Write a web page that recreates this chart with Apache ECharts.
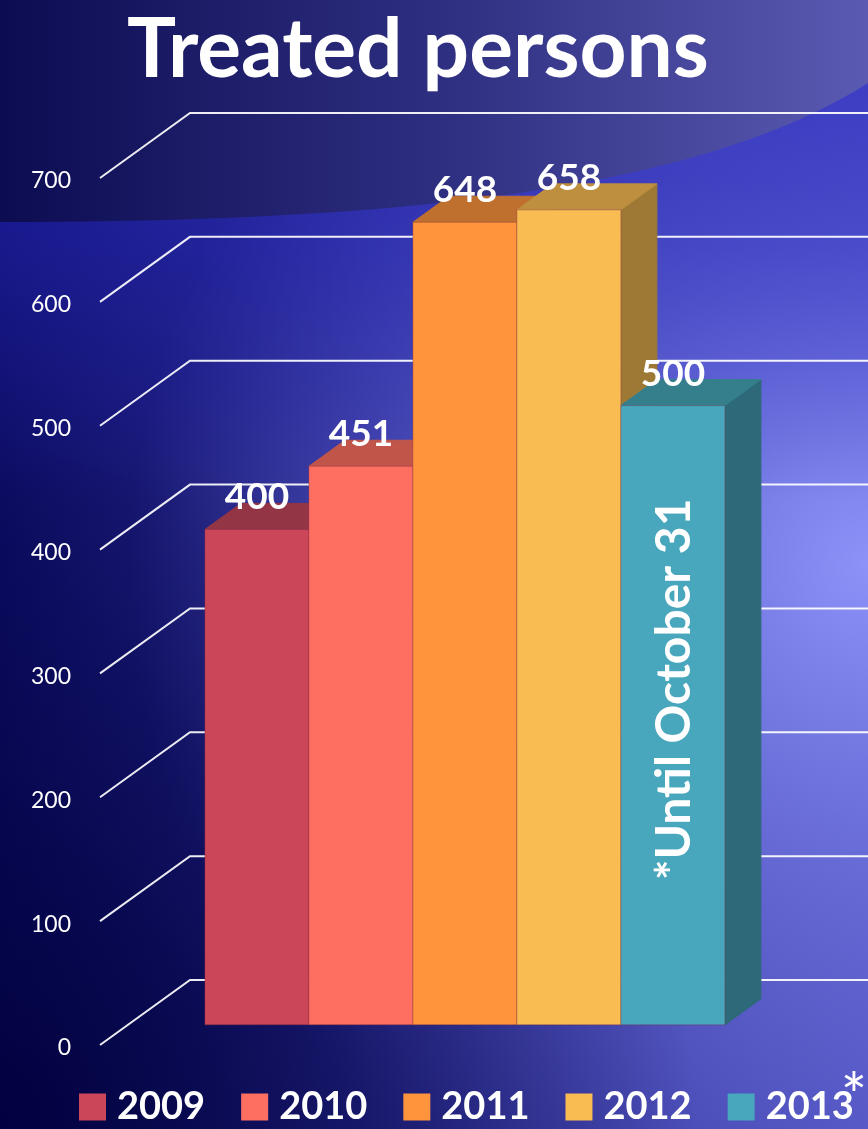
<!DOCTYPE html>
<html>
<head>
<meta charset="utf-8">
<script src="https://cdn.jsdelivr.net/npm/echarts@6/dist/echarts.min.js"></script>
<style>
  html, body { margin: 0; padding: 0; background: #0a0a50; }
  #chart { width: 868px; height: 1129px; }
</style>
</head>
<body>
<div id="chart"></div>
<script>
// ---- data ----
const years = ['2009', '2010', '2011', '2012', '2013'];
const treated = [400, 451, 648, 658, 500];
const yTicks = [0, 100, 200, 300, 400, 500, 600, 700];
const barNotes = ['', '', '', '', '*Until October 31'];
const titleText = 'Treated persons';

// ---- styles ----
const frontColors = ['#CC4659', '#FF6F61', '#FF943D', '#F9BC52', '#48A7BC'];
const topColors   = ['#943545', '#C1554A', '#BF702E', '#BE8F3F', '#357F8D'];
const sideColors  = ['#7A2A38', '#A0463D', '#9E5C26', '#9E7935', '#2D6978'];
const FONT = 'Lato, "Open Sans", sans-serif';

// oblique depth projection (full depth of the floor)
const DX = -90, DY = 65;
const FRONT = 0.69, BACK = 0.29;

// decorative swoosh outline (cubic bezier sampled into a polygon)
function swooshPoints() {
  const p0 = [868, 83], p1 = [700, 190], p2 = [400, 222], p3 = [0, 222];
  const pts = [[0, 0], [868, 0]];
  for (let s = 0; s <= 40; s++) {
    const t = s / 40, u = 1 - t;
    pts.push([
      u * u * u * p0[0] + 3 * u * u * t * p1[0] + 3 * u * t * t * p2[0] + t * t * t * p3[0],
      u * u * u * p0[1] + 3 * u * u * t * p1[1] + 3 * u * t * t * p2[1] + t * t * t * p3[1]
    ]);
  }
  return pts;
}

const chart = echarts.init(document.getElementById('chart'));

function renderAxis(params, api) {
  const v = api.value(1);
  const y = api.coord([0, v])[1];
  const backX = 190, rightX = 868;
  return {
    type: 'group',
    children: [
      { type: 'polyline', shape: { points: [[backX + DX, y + DY], [backX, y], [rightX, y]] },
        style: { stroke: 'rgba(255,255,255,0.92)', lineWidth: 2, fill: null } },
      { type: 'text', x: 71, y: y + DY + 3,
        style: { text: String(v), fill: '#ffffff', font: '400 23px ' + FONT, align: 'right', verticalAlign: 'middle' } }
    ]
  };
}

function makeRenderBar(k) {
  return function (params, api) {
    const i = api.value(0), v = api.value(1);
    const top = api.coord([i, v]);
    const base = api.coord([i, 0]);
    const w = api.size([1, 0])[0];
    const xl = top[0] - w / 2, xr = top[0] + w / 2;
    const fdx = DX * FRONT, fdy = DY * FRONT, bdx = DX * BACK, bdy = DY * BACK;
    const yT = top[1], yB = base[1];
    const children = [
      { type: 'polygon', shape: { points: [[xr + fdx, yT + fdy], [xr + bdx, yT + bdy], [xr + bdx, yB + bdy], [xr + fdx, yB + fdy]] },
        style: { fill: sideColors[k], stroke: sideColors[k], lineWidth: 1 } },
      { type: 'polygon', shape: { points: [[xl + fdx, yT + fdy], [xr + fdx, yT + fdy], [xr + bdx, yT + bdy], [xl + bdx, yT + bdy]] },
        style: { fill: topColors[k], stroke: topColors[k], lineWidth: 1 } },
      { type: 'rect', shape: { x: xl + fdx, y: yT + fdy, width: w, height: yB - yT },
        style: { fill: frontColors[k], stroke: 'rgba(120,40,60,0.35)', lineWidth: 1 } },
      { type: 'text', x: (xl + xr) / 2 + fdx, y: yT + fdy - 32,
        style: { text: String(v), fill: '#ffffff', font: '700 37px ' + FONT, align: 'center', verticalAlign: 'middle' } }
    ];
    if (barNotes[k]) {
      children.push({ type: 'text', x: (xl + xr) / 2 + fdx + 2, y: (yT + yB) / 2 + fdy - 26, rotation: Math.PI / 2,
        style: { text: barNotes[k], fill: '#ffffff', font: '700 48px ' + FONT, align: 'center', verticalAlign: 'middle' } });
    }
    return { type: 'group', children: children };
  };
}

const barSeries = years.map(function (yr, k) {
  return {
    type: 'custom', name: yr, z: 5,
    itemStyle: { color: frontColors[k] },
    renderItem: makeRenderBar(k),
    data: [[k, treated[k]]],
    encode: { x: 0, y: 1 }
  };
});

const option = {
  animation: false,
  backgroundColor: '#0a0a50',
  graphic: {
    elements: [
      { type: 'rect', z: -10, shape: { x: 0, y: 0, width: 868, height: 1129 },
        style: { fill: new echarts.graphic.LinearGradient(0, 0, 1, 0, [
          { offset: 0, color: '#0c0c62' }, { offset: 0.45, color: '#2c2c92' }, { offset: 1, color: '#5052c0' }]) } },
      { type: 'rect', z: -9, shape: { x: 0, y: 0, width: 868, height: 1129 },
        style: { fill: new echarts.graphic.RadialGradient(1.0, 0.5, 0.85, [
          { offset: 0, color: 'rgba(140,146,248,1)' }, { offset: 0.45, color: 'rgba(112,116,222,0.65)' }, { offset: 1, color: 'rgba(100,104,210,0)' }]) } },
      { type: 'rect', z: -8, shape: { x: 0, y: 0, width: 868, height: 1129 },
        style: { fill: new echarts.graphic.RadialGradient(0, 1, 0.8, [
          { offset: 0, color: 'rgba(0,0,60,0.9)' }, { offset: 1, color: 'rgba(0,0,60,0)' }]) } },
      { type: 'rect', z: -8, shape: { x: 0, y: 80, width: 868, height: 420 },
        style: { fill: new echarts.graphic.LinearGradient(0, 0, 0, 1, [
          { offset: 0, color: 'rgba(40,40,190,0.6)' }, { offset: 0.4, color: 'rgba(40,40,190,0.45)' }, { offset: 1, color: 'rgba(40,40,190,0)' }]) } },
      { type: 'polygon', z: -7, shape: { points: swooshPoints() },
        style: { fill: new echarts.graphic.LinearGradient(0, 0, 1, 0, [
          { offset: 0, color: '#0c0c52' }, { offset: 0.5, color: '#2e2e80' }, { offset: 1, color: '#5a5ab2' }]) } },
      { type: 'text', x: 854, y: 1098, z: 10,
        style: { text: '*', fill: '#ffffff', font: '400 62px ' + FONT, align: 'center', verticalAlign: 'middle' } }
    ]
  },
  title: {
    text: titleText, left: 122, top: 5,
    textStyle: { color: '#ffffff', fontFamily: FONT, fontWeight: 700, fontSize: 82 }
  },
  legend: {
    left: 74, top: 1083, width: 800, itemWidth: 27, itemHeight: 27, icon: 'rect', itemGap: 36,
    textStyle: { color: '#ffffff', fontFamily: FONT, fontWeight: 700, fontSize: 38, padding: [0, 0, 0, 6] },
    data: years
  },
  grid: { left: 267, width: 520, top: 113, bottom: 149, containLabel: false },
  xAxis: { type: 'category', data: years, show: false },
  yAxis: { type: 'value', min: 0, max: 700, interval: 100, show: false },
  series: [
    { type: 'custom', name: 'axis', z: 1, silent: true, renderItem: renderAxis,
      data: yTicks.map(function (t) { return [0, t]; }), encode: { x: 0, y: 1 } }
  ].concat(barSeries)
};
chart.setOption(option);
</script>
</body>
</html>
